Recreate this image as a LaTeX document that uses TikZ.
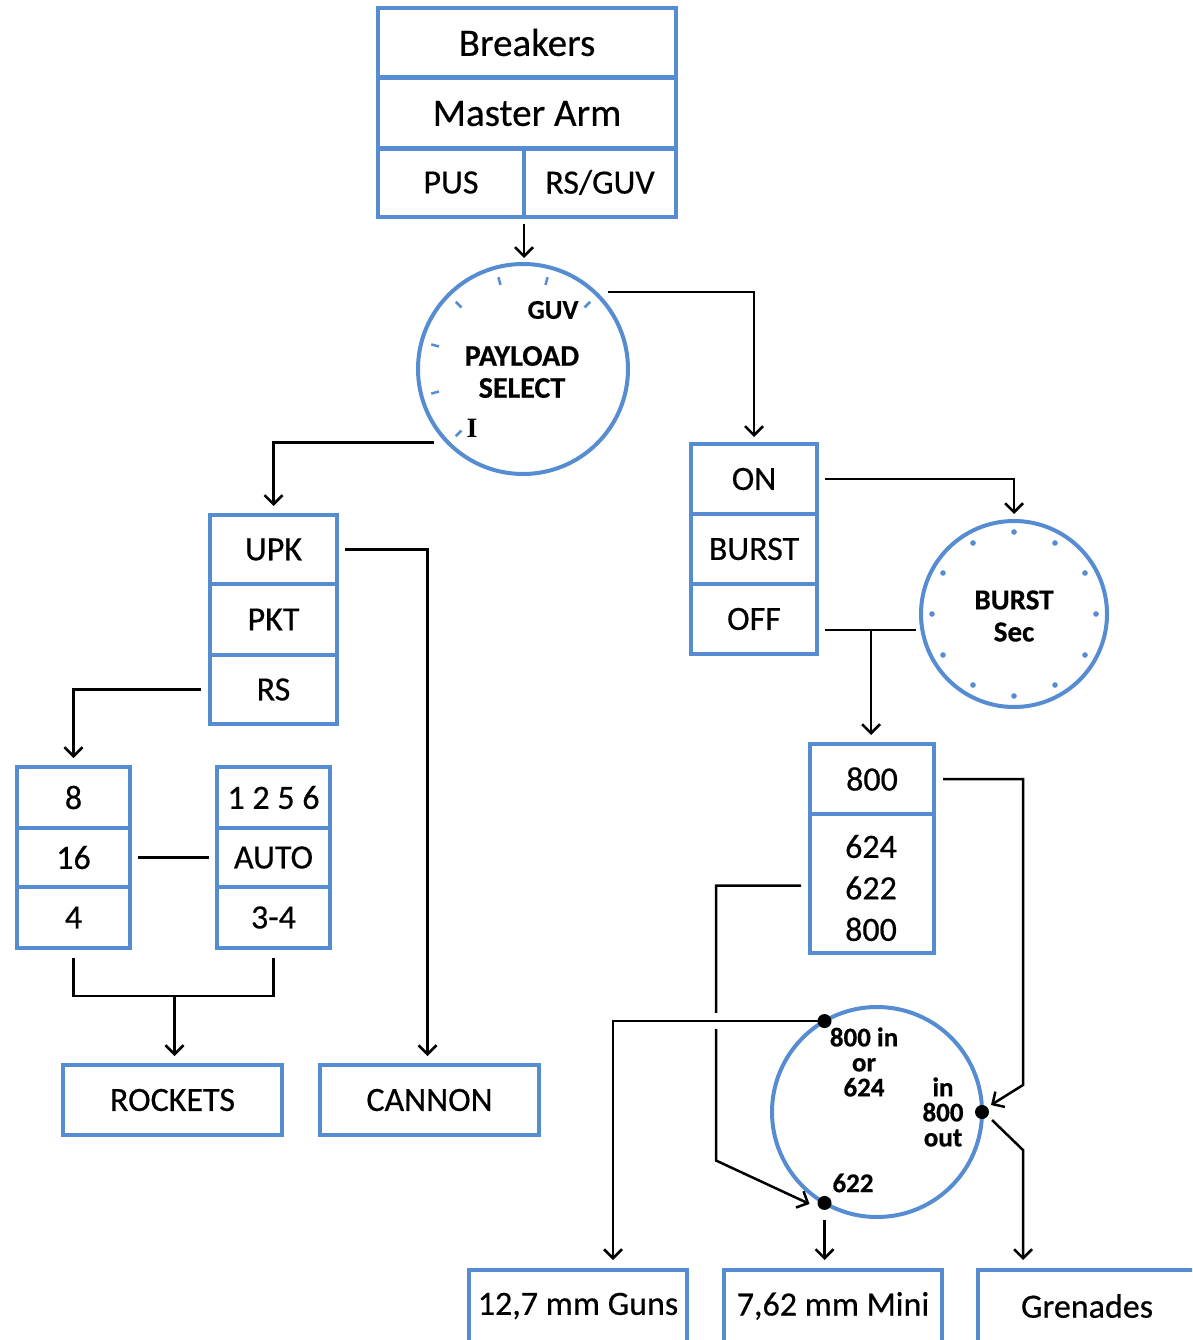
\documentclass[tikz,border=0pt]{standalone}
\usepackage{fontspec}
\setmainfont{Carlito}[FakeBold=0.5]
\newfontfamily\serifI{Liberation Serif}
\usetikzlibrary{arrows.meta,calc}
\definecolor{boxblue}{RGB}{85,140,210}
\begin{document}
\begin{tikzpicture}[x=1pt,y=-1pt,
  cell/.style 2 args={draw=boxblue,line width=4pt,minimum width=#1,minimum height=#2,inner sep=0pt,font=\fontsize{34}{38}\selectfont},
  dial/.style={circle,draw=boxblue,line width=4pt,inner sep=0pt,outer sep=0pt},
  dtext/.style={font=\bfseries\fontsize{30}{32}\selectfont,align=center,inner sep=0pt},
  stext/.style={font=\bfseries\fontsize{27}{25}\selectfont,align=center,inner sep=0pt},
  btext/.style={font=\fontsize{34}{38}\selectfont,inner sep=0pt},
  conn/.style={draw=black,line width=2.5pt},
  arr/.style={conn,-{Straight Barb[length=9pt,width=18pt]}}]
\clip (0,0) rectangle (1192,1340);
\fill[white] (0,0) rectangle (1192,1340);
% top box
\node[cell={298}{69},font=\fontsize{39}{42}\selectfont] (brk) at (527,42.5) {Breakers};
\node[cell={298}{71},font=\fontsize{39}{42}\selectfont] (marm) at (527,113.5) {Master Arm};
\node[cell={146}{69}] (pus) at (451,182.5) {PUS};
\node[cell={152}{69}] (rsguv) at (600,182.5) {RS/GUV};
% payload select dial
\node[dial,minimum size=210] (ps) at (523,369) {};
\foreach \a in {45,75,...,225}
  \draw[boxblue,line width=2.5pt] ($(ps.center)+(\a:87pt)$) -- ($(ps.center)+(\a:95pt)$);
\node[dtext] (pstxt) at (522,372) {PAYLOAD\\SELECT};
\node[stext] (guv) at (553,310) {GUV};
\node[font=\serifI\bfseries\fontsize{28}{30}\selectfont,inner sep=0pt] (ipos) at (472,428) {I};
% left stack
\node[cell={127}{69}] (upk) at (273.5,549.5) {UPK};
\node[cell={127}{71}] (pkt) at (273.5,619.5) {PKT};
\node[cell={127}{69}] (rs) at (273.5,689.5) {RS};
\node[cell={113}{61}] (c8) at (73.5,797.5) {8};
\node[cell={113}{59}] (c16) at (73.5,857.5) {16};
\node[cell={113}{61}] (c4) at (73.5,917.5) {4};
\node[cell={113}{61}] (c1256) at (273.5,797.5) {1 2 5 6};
\node[cell={113}{59}] (cauto) at (273.5,857.5) {AUTO};
\node[cell={113}{61}] (c34) at (273.5,917.5) {3-4};
\node[cell={219}{70}] (rockets) at (172.5,1100) {ROCKETS};
\node[cell={219}{70}] (cannon) at (429.5,1100) {CANNON};
% right side
\node[cell={126}{70}] (on) at (754,479) {ON};
\node[cell={126}{70}] (burst) at (754,549) {BURST};
\node[cell={126}{70}] (off) at (754,619) {OFF};
\node[dial,minimum size=186] (bd) at (1014,614) {};
\foreach \a in {0,30,...,330}
  \fill[boxblue] ($(bd.center)+(\a:82pt)$) circle (2.8pt);
\node[dtext,font=\bfseries\fontsize{29}{32}\selectfont] (bdtxt) at (1014,616) {BURST\\Sec};
\node[cell={124}{70}] (c800) at (872,779) {800};
\node[cell={124}{139}] (c624) at (872,883.5) {};
\node[btext,align=center,font=\fontsize{34}{41.5}\selectfont] (t624) at (871,888) {624\\622\\800};
% lower selector
\node[dial,minimum size=210] (lc) at (877,1112) {};
\coordinate (dT) at (lc.120);
\coordinate (dR) at (lc.0);
\coordinate (dB) at (lc.240);
\node[stext] (t800in) at (864,1062) {800 in\\or\\624};
\node[stext] (tin) at (943,1112) {in\\800\\out};
\node[stext] (t622) at (853,1183) {622};
% bottom boxes
\node[cell={218}{90}] (gunsbox) at (578,1315) {};
\node[cell={218}{90}] (minibox) at (833,1315) {};
\node[cell={222}{90}] (grenbox) at (1089,1315) {};
\node[btext] (guns) at (578,1306) {12,7 mm Guns};
\node[btext] (mini) at (833,1306) {7,62 mm Mini};
\node[btext] (gren) at (1087,1306) {Grenades};
% connectors
\draw[arr] ($(pus.south east)+(-2,5)$) -- ($(pus.south east |- ps.north)+(-2,-6)$);
\draw[arr] ($(ps.47)+(13,0)$) -| ($(on.north)+(0,-5)$);
\draw[arr] ($(ps.226)+(-16,-2)$) -| ($(upk.north)+(0,-7)$);
\draw[arr] ($(upk.east)+(6,0)$) -| ($(cannon.north)+(-2,-7)$);
\draw[arr] ($(rs.west)+(-7,0)$) -| ($(c8.north)+(0,-7)$);
\draw[conn] ($(c16.east)+(6,0)$) -- ($(cauto.west)+(-6,0)$);
\coordinate (mrg) at ($(c4.south)!0.5!(c34.south)+(1,46)$);
\draw[conn] ($(c4.south)+(0,8)$) |- (mrg) -| ($(c34.south)+(0,8)$);
\draw[arr] (mrg) -- ($(mrg |- rockets.north)+(0,-7)$);
\draw[arr] ($(on.east)+(6,0)$) -| ($(bd.north)+(0,-7)$);
\coordinate (offl) at ($(off.east)+(6,11)$);
\draw[conn] (offl) -- ($(offl -| bd.west)+(-5,0)$);
\coordinate (br) at ($(offl -| c800.north)+(-1,0)$);
\draw[arr] (br) -- ($(br |- c800.north)+(0,-7)$);
\draw[arr] ($(c800.east)+(7,0)$) -| ($(dR)+(41,-27)$) -- ($(dR)+(9,-7)$);
\draw[arr] ($(c624.west)+(-7,2)$) -- ++(-85,0) -- ++(0,275) -- ($(dB)+(-15,1)$);
\fill[white] ($(dT)+(-113,-8)$) rectangle ($(dT)+(-99,8)$);
\draw[arr] (dT) -| ($(gunsbox.north)+(35,-8)$);
\draw[arr] ($(dB)+(0,17)$) -- ($(dB |- minibox.north)+(0,-8)$);
\draw[arr] ($(dR)+(10,8)$) -- ($(dR)+(41,38)$) -- ($(dR |- grenbox.north)+(41,-8)$);
\fill (dT) circle (7pt);
\fill (dR) circle (7pt);
\fill (dB) circle (7pt);
\end{tikzpicture}
\end{document}
